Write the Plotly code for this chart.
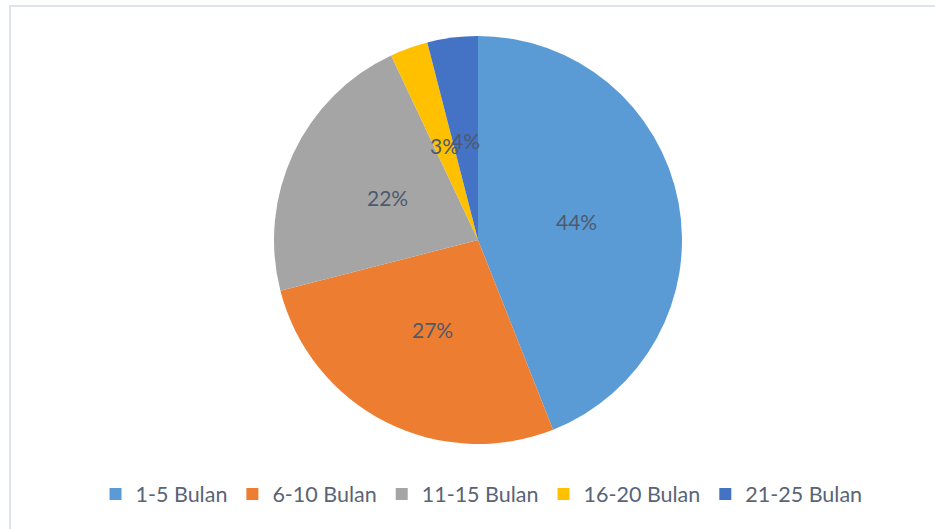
import math
import plotly.graph_objects as go

categories = ["1-5 Bulan", "6-10 Bulan", "11-15 Bulan", "16-20 Bulan", "21-25 Bulan"]
values = [44, 27, 22, 3, 4]
colors = ["#5B9BD5", "#ED7D31", "#A5A5A5", "#FFC000", "#4472C4"]

W, H = 935, 529
cx, cy, R = 478, 240, 204  # pie centre / radius in pixels

fig = go.Figure(go.Pie(
    labels=categories,
    values=values,
    marker=dict(colors=colors, line=dict(width=0)),
    sort=False,
    direction="clockwise",
    rotation=0,
    textinfo="none",
    hoverinfo="label+percent",
    domain=dict(x=[(cx - R) / W, (cx + R) / W], y=[(H - cy - R) / H, (H - cy + R) / H]),
))

# percentage labels placed at half radius on each slice's mid-angle
total = sum(values)
annotations = []
cum = 0
for v in values:
    mid = (cum + v / 2) / total * 2 * math.pi
    cum += v
    r = 0.49 * R
    px = cx + r * math.sin(mid)
    py = cy - r * math.cos(mid)
    annotations.append(dict(
        x=px / W, y=1 - py / H, xref="paper", yref="paper",
        text=f"{round(v / total * 100)}%", showarrow=False,
        font=dict(family="Lato, sans-serif", size=21, color="#4d5a6c"),
        xanchor="center", yanchor="middle",
    ))

fig.update_layout(
    width=W, height=H,
    margin=dict(l=0, r=0, t=0, b=0),
    paper_bgcolor="white",
    plot_bgcolor="white",
    annotations=annotations,
    legend=dict(
        orientation="h", x=0.515, xanchor="center", y=1 - 494 / H, yanchor="middle",
        font=dict(family="Lato, sans-serif", size=21.5, color="#5a6475"),
        itemsizing="constant",
    ),
    shapes=[dict(
        type="rect", xref="paper", yref="paper",
        x0=10 / W, x1=1.02, y0=-0.02, y1=1 - 6 / H,
        line=dict(color="#dfe3ea", width=2), fillcolor="rgba(0,0,0,0)", layer="below",
    )],
)

fig.write_html(
    "out.html",
    config={"displayModeBar": False},
    post_script="document.body.style.margin='0';document.body.style.overflow='hidden';",
)
